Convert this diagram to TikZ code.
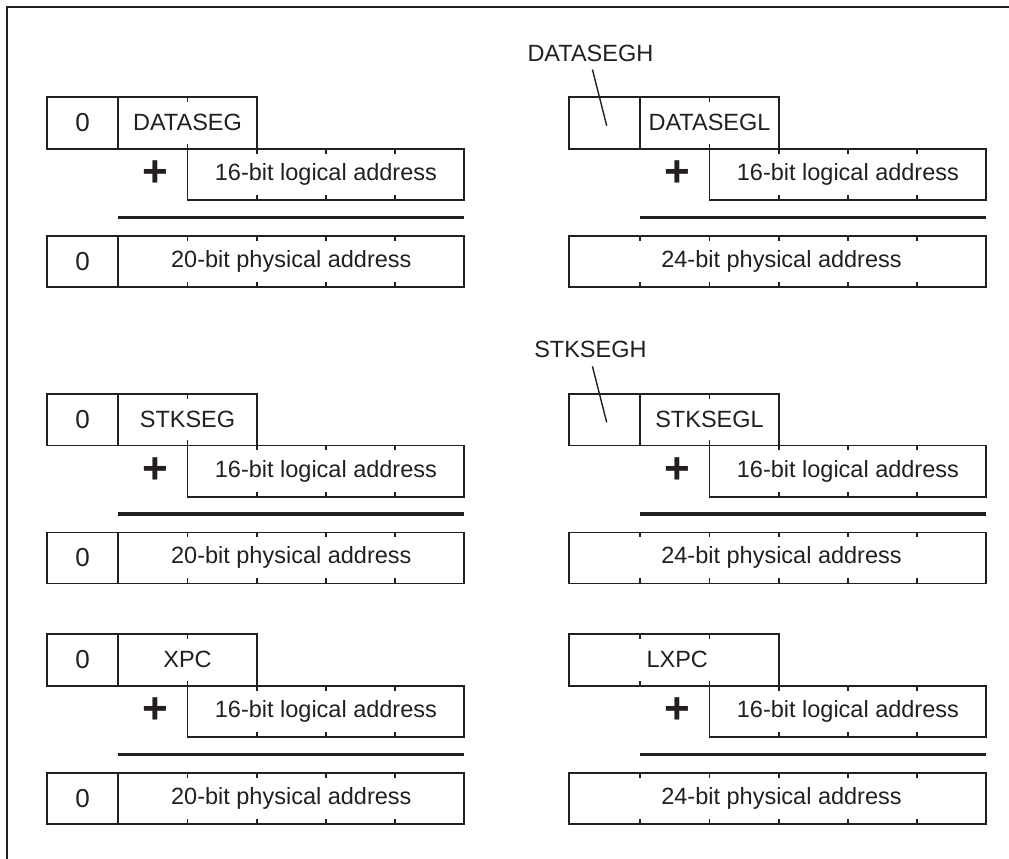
\documentclass[tikz,border=0pt]{standalone}
\usepackage{fontspec}
\setmainfont{Liberation Sans}
\definecolor{ink}{RGB}{35,31,32}
\tikzset{
  cell/.style={draw=ink, line width=1.8pt, inner sep=0pt, text=ink, font=\fontsize{23.5}{28}\selectfont},
  zerocell/.style={cell, font=\fontsize{26}{30}\selectfont},
  tickmark/.style={draw=ink, line width=1.8pt},
  sumline/.style={draw=ink, line width=3.2pt},
  plussign/.style={text=ink, inner sep=0pt, font=\fontsize{44}{44}\bfseries\selectfont},
  framebar/.style={draw=ink, line width=1.8pt},
  leader/.style={draw=ink, line width=1.4pt},
  calloutlabel/.style={text=ink, inner sep=0pt, font=\fontsize{23.5}{28}\selectfont}
}
% common logical part: #1 x offset, #2 top, #3 id
\newcommand\logicpart[3]{%
  \node[cell, minimum width=276.8pt, minimum height=51.6pt] (log#3) at ({#1+325.9},{#2+77.5}) {16-bit logical address};
  \node[plussign] (plus#3) at ({#1+155},{#2+77}) {+};
  \coordinate (sumA#3) at ({#1+118.3},{#2+120.3});
  \coordinate (sumB#3) at ({#1+464.3},{#2+120.3});
  \draw[sumline] (sumA#3) -- (sumB#3);
  \foreach \t in {256.7,325.9,395.1} {
    \draw[tickmark] ({#1+\t},{#2+51.7}) -- ++(0,5);
    \draw[tickmark] ({#1+\t},{#2+103.3}) -- ++(0,-5);
  }
}
% left group: #1 top, #2 id, #3 segment name
\newcommand\leftgroup[3]{%
  \node[zerocell, minimum width=71.6pt, minimum height=51.7pt] (zs#2) at (82.5,{#1+25.85}) {0};
  \node[cell, minimum width=138.4pt, minimum height=51.7pt] (seg#2) at (187.5,{#1+25.85}) {#3};
  \draw[tickmark] (187.5,#1) -- ++(0,5);
  \draw[tickmark] (187.5,{#1+51.7}) -- ++(0,-5);
  \logicpart{0}{#1}{#2}
  \node[zerocell, minimum width=71.6pt, minimum height=51pt] (zp#2) at (82.5,{#1+164.2}) {0};
  \node[cell, minimum width=346pt, minimum height=51pt] (phys#2) at (291.3,{#1+164.2}) {20-bit physical address};
  \foreach \t in {187.5,256.7,325.9,395.1} {
    \draw[tickmark] (\t,{#1+138.7}) -- ++(0,5);
    \draw[tickmark] (\t,{#1+189.7}) -- ++(0,-5);
  }
}
% right physical part: #1 top, #2 id
\newcommand\rightphys[2]{%
  \node[cell, minimum width=417.6pt, minimum height=51pt] (phys#2) at (777.5,{#1+164.2}) {\hspace*{8pt}24-bit physical address};
  \foreach \t in {118.3,187.5,256.7,325.9,395.1} {
    \draw[tickmark] ({522+\t},{#1+138.7}) -- ++(0,5);
    \draw[tickmark] ({522+\t},{#1+189.7}) -- ++(0,-5);
  }
}
% right group with high/low halves: #1 top, #2 id, #3 high name, #4 low name
\newcommand\rightgroup[4]{%
  \node[cell, minimum width=71.6pt, minimum height=51.7pt] (hi#2) at (604.5,{#1+25.85}) {};
  \node[cell, minimum width=138.4pt, minimum height=51.7pt] (seg#2) at (709.5,{#1+25.85}) {#4};
  \draw[tickmark] (709.5,#1) -- ++(0,5);
  \draw[tickmark] (709.5,{#1+51.7}) -- ++(0,-5);
  \node[calloutlabel] (hl#2) at (590.4,{#1-44}) {#3};
  \coordinate (hp#2) at (606.7,{#1+28.7});
  \draw[leader] ([xshift=2pt,yshift=-8pt]hl#2.south) -- (hp#2);
  \logicpart{522}{#1}{#2}
  \rightphys{#1}{#2}
}
\begin{document}
\begin{tikzpicture}[x=1pt,y=-1pt]
\useasboundingbox (0,0) rectangle (1009,859);
\coordinate (fbl) at (7.3,859);
\coordinate (ftl) at (7.3,7.3);
\coordinate (ftr) at (1009,7.3);
\draw[framebar] (fbl) -- (ftl) -- (ftr);

\leftgroup{97}{a}{DATASEG}
\leftgroup{393.7}{b}{STKSEG}
\leftgroup{634}{c}{XPC}

\rightgroup{97}{d}{DATASEGH}{DATASEGL}
\rightgroup{393.7}{e}{STKSEGH}{STKSEGL}

% LXPC group
\node[cell, minimum width=210pt, minimum height=51.7pt] (segf) at (673.7,{634+25.85}) {\hspace*{7pt}LXPC};
\foreach \t in {640.3,709.5} {
  \draw[tickmark] (\t,634) -- ++(0,5);
  \draw[tickmark] (\t,{634+51.7}) -- ++(0,-5);
}
\logicpart{522}{634}{f}
\rightphys{634}{f}
\end{tikzpicture}
\end{document}
